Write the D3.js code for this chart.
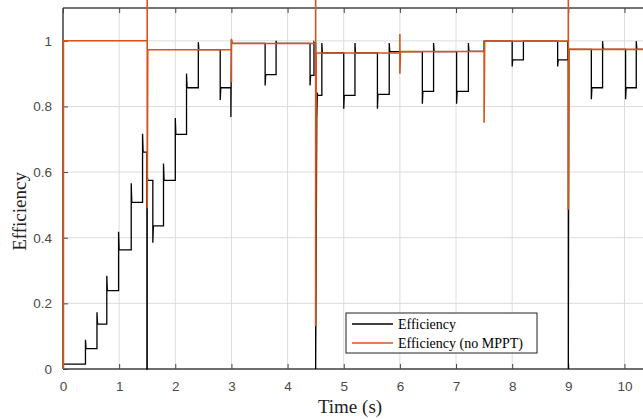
<!DOCTYPE html>
<html>
  <head>
    <meta charset="utf-8" />
    <script src="https://d3js.org/d3.v7.min.js"></script>
    <style>
      body { margin: 0; background: #fff; }
      svg { display: block; }
    </style>
  </head>
  <body>
    <script>
      // Efficiency (with MPPT): time / value pairs
      const effT = [0, 0.4, 0.4, 0.41, 0.605, 0.605, 0.615, 0.78, 0.78, 0.79, 0.99, 0.99, 1.0, 1.215, 1.215, 1.225,
        1.417, 1.417, 1.427, 1.494, 1.494, 1.5, 1.5, 1.51, 1.6, 1.6, 1.61, 1.79, 1.79, 1.8, 2.0, 2.0, 2.01,
        2.2, 2.2, 2.21, 2.41, 2.41, 2.42, 2.8, 2.8, 2.81, 2.99, 2.99, 3.0, 3.01,
        3.6, 3.6, 3.61, 3.795, 3.795, 3.805, 4.4, 4.4, 4.41, 4.47, 4.47, 4.48, 4.5, 4.5,
        4.52, 4.53, 4.535, 4.61, 4.61, 4.62, 5.0, 5.0, 5.01, 5.2, 5.2, 5.21, 5.6, 5.6, 5.61, 5.81, 5.81, 5.82,
        6.4, 6.4, 6.41, 6.6, 6.6, 6.61, 7.01, 7.01, 7.02, 7.22, 7.22, 7.23, 7.5, 7.5,
        8.0, 8.0, 8.01, 8.2, 8.2, 8.81, 8.81, 8.82, 8.99, 8.99, 9.0, 9.0, 9.01,
        9.41, 9.41, 9.42, 9.61, 9.61, 9.62, 10.02, 10.02, 10.03, 10.21, 10.21, 10.22, 10.4];
      const effV = [0.015, 0.015, 0.089, 0.062, 0.062, 0.173, 0.137, 0.137, 0.284, 0.239, 0.239, 0.418, 0.363, 0.363, 0.566, 0.508,
        0.508, 0.717, 0.661, 0.661, 0, 0, 0.59, 0.575, 0.575, 0.385, 0.436, 0.436, 0.626, 0.575, 0.575, 0.765, 0.715,
        0.715, 0.9, 0.857, 0.857, 0.996, 0.973, 0.973, 0.82, 0.857, 0.857, 0.768, 1.003, 0.992,
        0.992, 0.864, 0.897, 0.897, 1.0, 0.992, 0.992, 0.864, 0.895, 0.895, 0.995, 0.992, 0.992, 0,
        0.763, 0.842, 0.834, 0.834, 0.993, 0.963, 0.963, 0.793, 0.834, 0.834, 0.993, 0.963, 0.963, 0.793, 0.837, 0.837, 0.993, 0.967,
        0.967, 0.808, 0.846, 0.846, 0.993, 0.967, 0.967, 0.808, 0.846, 0.846, 0.993, 0.968, 0.968, 0.999,
        0.999, 0.922, 0.942, 0.942, 0.999, 0.999, 0.922, 0.942, 0.942, 0.999, 0.999, 0, 0.974,
        0.974, 0.822, 0.857, 0.857, 0.999, 0.974, 0.974, 0.822, 0.857, 0.857, 0.999, 0.974, 0.974];

      // Efficiency (no MPPT)
      const noMpptT = [0.008, 0.008, 1.5, 1.5, 1.5, 1.51, 3.0, 3.0, 3.0, 3.01, 4.5, 4.5, 4.5, 4.51,
        6.0, 6.0, 6.0, 6.01, 7.5, 7.5, 7.51, 9.0, 9.0, 9.0, 9.01, 10.4];
      const noMpptV = [0, 1.0, 1.0, 1.15, 0.49, 0.973, 0.973, 0.874, 1.006, 0.992, 0.992, 1.15, 0.131, 0.963,
        0.963, 1.021, 0.9, 0.967, 0.968, 0.75, 0.999, 0.999, 1.15, 0.485, 0.974, 0.974];

      const xTicks = [0, 1, 2, 3, 4, 5, 6, 7, 8, 9, 10];
      const yTicks = [0, 0.2, 0.4, 0.6, 0.8, 1];
      const seriesNames = ["Efficiency", "Efficiency (no MPPT)"];
      const seriesColors = ["#000000", "#d95319"];

      const width = 643, height = 419;
      const margin = { top: 8, left: 63, bottom: 50 };

      const svg = d3.select("body").append("svg")
        .attr("width", width)
        .attr("height", height);

      const x = d3.scaleLinear().domain([0, 10.33]).range([margin.left, width]);
      const y = d3.scaleLinear().domain([0, 1.1]).range([height - margin.bottom, margin.top]);

      // grid
      svg.append("g")
        .selectAll("line")
        .data(xTicks)
        .join("line")
        .attr("x1", d => x(d)).attr("x2", d => x(d))
        .attr("y1", y(0)).attr("y2", y(1.1))
        .attr("stroke", "#dcdcdc").attr("stroke-width", 1);
      svg.append("g")
        .selectAll("line")
        .data(yTicks)
        .join("line")
        .attr("x1", x(0)).attr("x2", width)
        .attr("y1", d => y(d)).attr("y2", d => y(d))
        .attr("stroke", "#dcdcdc").attr("stroke-width", 1);

      // axes (ticks pointing inward, MATLAB style)
      const axisColor = "#444";
      const xAxis = svg.append("g")
        .attr("transform", `translate(0,${y(0)})`)
        .call(d3.axisBottom(x).tickValues(xTicks).tickSizeInner(-5).tickSizeOuter(0).tickPadding(12).tickFormat(d3.format("d")));
      const yAxis = svg.append("g")
        .attr("transform", `translate(${x(0)},0)`)
        .call(d3.axisLeft(y).tickValues(yTicks).tickSizeInner(-5).tickSizeOuter(0).tickPadding(11).tickFormat(d => d === 0 || d === 1 ? d : d.toFixed(1)));
      const xTop = svg.append("g")
        .attr("transform", `translate(0,${y(1.1)})`)
        .call(d3.axisTop(x).tickValues(xTicks).tickSizeInner(-5).tickSizeOuter(0).tickFormat(""));

      [xAxis, yAxis, xTop].forEach(g => {
        g.select(".domain").attr("stroke", axisColor).attr("stroke-width", 1.5);
        g.selectAll(".tick line").attr("stroke", axisColor);
        g.selectAll("text")
          .attr("fill", "#4a4a4a")
          .style("font-family", "'Liberation Sans', Arial, sans-serif")
          .style("font-size", "13.5px");
      });
      yAxis.select(".domain").attr("d", `M0,${y(0)}V${y(1.1)}`);
      xAxis.select(".domain").attr("d", `M${x(0)},0H${width}`);
      xTop.select(".domain").attr("d", `M${x(0)},0H${width}`);

      // lines
      const line = d3.line().x(d => x(d[0])).y(d => y(d[1]));
      const effData = d3.zip(effT, effV);
      const noMpptData = d3.zip(noMpptT, noMpptV);

      svg.append("path")
        .datum(effData)
        .attr("d", line)
        .attr("fill", "none")
        .attr("stroke", seriesColors[0])
        .attr("stroke-width", 1.3);
      svg.append("path")
        .datum(noMpptData)
        .attr("d", line)
        .attr("fill", "none")
        .attr("stroke", seriesColors[1])
        .attr("stroke-width", 1.6);

      // axis titles
      svg.append("text")
        .attr("x", 350).attr("y", 413)
        .attr("text-anchor", "middle")
        .style("font-family", "'Liberation Serif', 'Times New Roman', serif")
        .style("font-size", "19px")
        .attr("fill", "#222")
        .text("Time (s)");
      svg.append("text")
        .attr("transform", `translate(26,${y(0.48)}) rotate(-90)`)
        .attr("text-anchor", "middle")
        .style("font-family", "'Liberation Serif', 'Times New Roman', serif")
        .style("font-size", "19px")
        .attr("fill", "#222")
        .text("Efficiency");

      // legend
      const legend = svg.append("g").attr("transform", "translate(346,313)");
      legend.append("rect")
        .attr("width", 191).attr("height", 40)
        .attr("fill", "#fff").attr("stroke", "#222").attr("stroke-width", 1);
      seriesNames.forEach((name, i) => {
        const ly = 11 + i * 19;
        legend.append("line")
          .attr("x1", 6).attr("x2", 47)
          .attr("y1", ly).attr("y2", ly)
          .attr("stroke", seriesColors[i]).attr("stroke-width", i ? 1.6 : 1.3);
        legend.append("text")
          .attr("x", 52).attr("y", ly + 4.5)
          .style("font-family", "'Liberation Serif', 'Times New Roman', serif")
          .style("font-size", "14px")
          .attr("fill", "#000")
          .text(name);
      });
    </script>
  </body>
</html>
